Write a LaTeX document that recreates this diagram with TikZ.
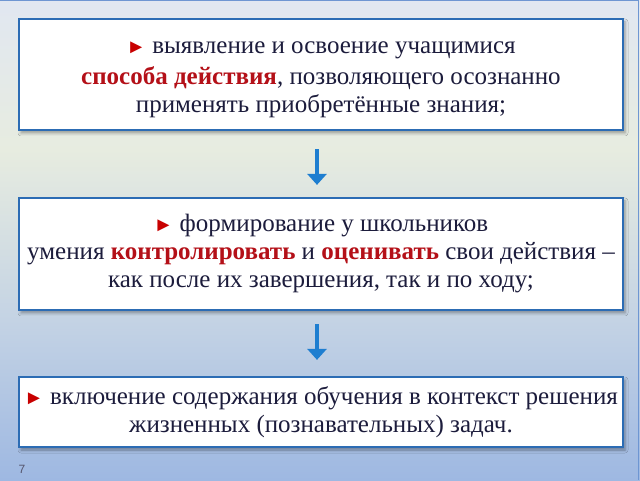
\documentclass[tikz,border=0pt]{standalone}
\usepackage{fontspec}
\setmainfont{Liberation Serif}
\newfontfamily\numfont{Liberation Sans}
\usetikzlibrary{arrows.meta,shadows.blur}
\definecolor{bgtop}{RGB}{225,231,241}
\definecolor{bgmid}{RGB}{231,236,224}
\definecolor{bgmid2}{RGB}{196,211,228}
\definecolor{bgbot}{RGB}{158,184,226}
\definecolor{boxblue}{RGB}{44,108,180}
\definecolor{arrblue}{RGB}{30,126,208}
\definecolor{txt}{RGB}{28,28,60}
\definecolor{hl}{RGB}{180,16,24}
\definecolor{mark}{RGB}{200,0,0}
\definecolor{frameblue}{RGB}{110,150,210}
\tikzset{
  textbox/.style={draw=boxblue, line width=2.2pt, fill=white, minimum width=604pt,
    inner sep=0pt, align=center, text=txt, font=\fontsize{25}{28}\selectfont,
    blur shadow={shadow xshift=2pt, shadow yshift=-3pt, shadow blur radius=3pt, shadow opacity=35}},
  flowarrow/.style={draw=arrblue, line width=3.5pt, -{Triangle[width=19pt,length=11pt]}},
}
\newcommand{\mk}{{\fontsize{20}{20}\selectfont\color{mark}►}}
\newcommand{\hlt}[1]{\textbf{\color{hl}#1}}
\begin{document}
\begin{tikzpicture}[x=1pt,y=1pt]
\useasboundingbox (0,0) rectangle (640,480);
\shade[top color=bgtop,bottom color=bgmid] (0,330) rectangle (640,480);
\shade[top color=bgmid,bottom color=bgmid2] (0,160) rectangle (640,330.5);
\shade[top color=bgmid2,bottom color=bgbot] (0,0) rectangle (640,160.5);
\draw[frameblue, line width=1pt] (0,479.5) -- (638,479.5) -- (638,0);

\node[textbox, minimum height=111pt] (b1) at (321,405.5)
  {\rule{0pt}{23pt}\mk\ выявление и освоение учащимися\\[3pt]
   \hlt{способа действия}, позволяющего осознанно\\
   применять приобретённые знания;};
\node[textbox, minimum height=112pt] (b2) at (321,226)
  {\mk\ формирование у школьников\\
   умения \hlt{контролировать} и \hlt{оценивать} свои действия –\\
   как после их завершения, так и по ходу;};
\node[textbox, minimum height=70pt] (b3) at (321,68)
  {\mk\ включение содержания обучения в контекст решения\\
   жизненных (познавательных) задач.};

\draw[flowarrow, shorten <=18pt, shorten >=12pt] ([xshift=-4pt]b1.south) -- ([xshift=-4pt]b2.north);
\draw[flowarrow, shorten <=13pt, shorten >=16pt] ([xshift=-4pt]b2.south) -- ([xshift=-4pt]b3.north);

\node[font=\numfont\fontsize{12}{14}\selectfont, text=txt!75] (pg) at (22,11) {7};
\end{tikzpicture}
\end{document}
